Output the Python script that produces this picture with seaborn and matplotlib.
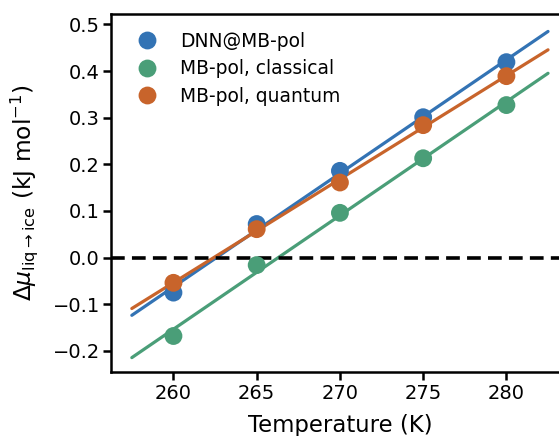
import numpy as np
import pandas as pd
import matplotlib
matplotlib.use("Agg")
import matplotlib.pyplot as plt
import seaborn as sns

# Chemical potential difference (liquid -> ice) versus temperature
temperatures = [260, 265, 270, 275, 280]
dnn_mbpol = [-0.075, 0.072, 0.186, 0.301, 0.419]
mbpol_classical = [-0.168, -0.016, 0.096, 0.213, 0.327]
mbpol_quantum = [-0.054, 0.061, 0.161, 0.284, 0.389]

series_names = ["DNN@MB-pol", "MB-pol, classical", "MB-pol, quantum"]
series_values = [dnn_mbpol, mbpol_classical, mbpol_quantum]
series_colors = ["#3373b4", "#4a9e78", "#c8642b"]

# temperature window for the linear fits
fit_start, fit_stop = 257.5, 282.5

sns.set_style("ticks")
plt.rcParams["font.family"] = ["DejaVu Sans"]
plt.rcParams["mathtext.fontset"] = "dejavusans"
plt.rcParams["text.color"] = "black"
plt.rcParams["axes.labelcolor"] = "black"

points = pd.DataFrame({
    "T": temperatures * len(series_names),
    "dmu": [v for vals in series_values for v in vals],
    "series": [n for n in series_names for _ in temperatures],
})

fit_T = np.array([fit_start, fit_stop])
fit_rows = []
for name, vals in zip(series_names, series_values):
    slope, icpt = np.polyfit(temperatures, vals, 1)
    for t in fit_T:
        fit_rows.append({"T": t, "dmu": slope * t + icpt, "series": name})
fits = pd.DataFrame(fit_rows)

fig = plt.figure(figsize=(5.59, 4.36), dpi=100)
ax = fig.add_axes([0.1986, 0.1475, 0.819, 0.8195])

palette = dict(zip(series_names, series_colors))

sns.lineplot(data=fits, x="T", y="dmu", hue="series", palette=palette,
             linewidth=2.3, legend=False, ax=ax)
sns.scatterplot(data=points, x="T", y="dmu", hue="series", palette=palette,
                s=165, linewidth=0, alpha=1.0, ax=ax, zorder=3)

ax.axhline(0.0, color="black", linestyle="--", linewidth=2.6, dashes=(3.8, 2.0))

ax.set_xlim(256.25, 283.75)
ax.set_ylim(-0.2445, 0.5214)
ax.set_xticks([260, 265, 270, 275, 280])
ax.set_yticks([-0.2, -0.1, 0.0, 0.1, 0.2, 0.3, 0.4, 0.5])
ax.set_yticklabels(["\u22120.2", "\u22120.1", "0.0", "0.1", "0.2", "0.3", "0.4", "0.5"])

ax.set_xlabel("Temperature (K)", fontsize=16.4, labelpad=8, color="black")
ax.set_ylabel(r"$\Delta\mu_{\mathrm{liq}\rightarrow\mathrm{ice}}$ (kJ mol$^{-1}$)",
              fontsize=16.8, labelpad=9, color="black")
ax.tick_params(axis="both", labelsize=14, length=6, width=1.8, color="black",
               labelcolor="black", pad=3)
ax.tick_params(axis="y", pad=2)
for side in ax.spines.values():
    side.set_linewidth(1.8)
    side.set_color("black")

leg = ax.legend(loc="upper left", frameon=False, fontsize=13.4, markerscale=1.0,
                borderaxespad=0.54, handletextpad=0.77, labelspacing=0.45)
for txt in leg.get_texts():
    txt.set_color("black")

fig.savefig("out.png", dpi=100)
